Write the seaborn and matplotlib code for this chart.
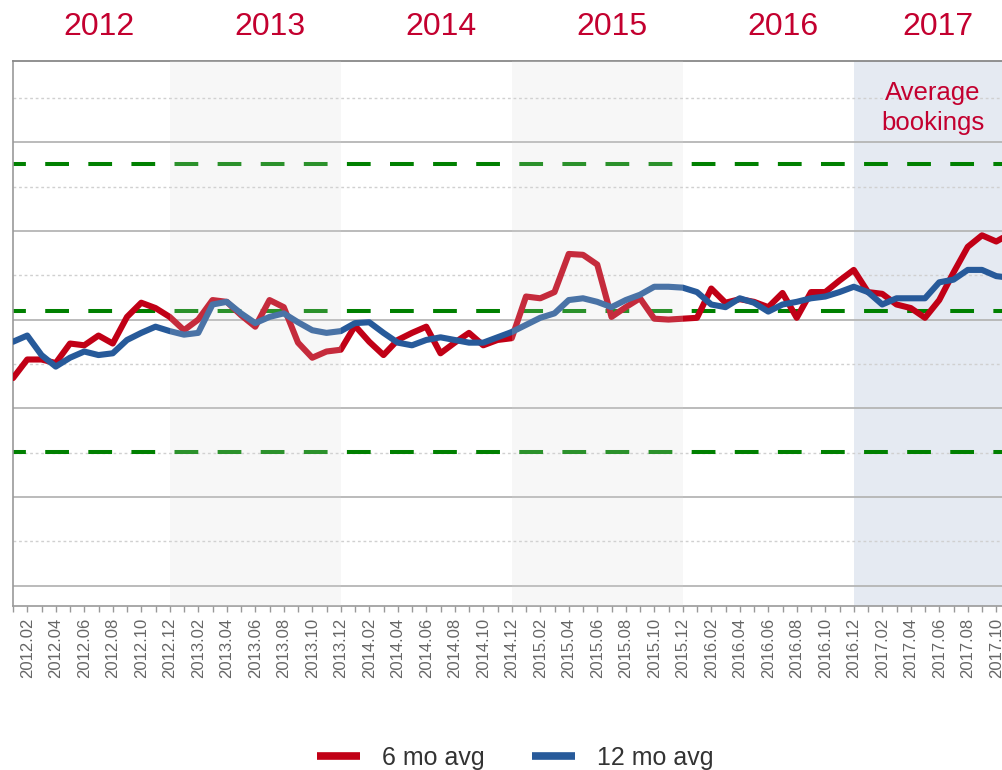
import matplotlib
matplotlib.use("Agg")
import numpy as np
import pandas as pd
import seaborn as sns
import matplotlib.pyplot as plt
from matplotlib.lines import Line2D
from matplotlib.ticker import MultipleLocator
from matplotlib.transforms import blended_transform_factory

# ---------------- data ----------------
years = [2012, 2013, 2014, 2015, 2016, 2017]
months = [f"{2012 + i // 12}.{i % 12 + 1:02d}" for i in range(71)]

avg6 = [2.34, 2.55, 2.55, 2.51, 2.73, 2.71, 2.82, 2.73, 3.03, 3.19,
        3.13, 3.03, 2.88, 3.00, 3.22, 3.20, 3.05, 2.92, 3.22, 3.14,
        2.74, 2.57, 2.64, 2.66, 2.93, 2.75, 2.60, 2.77, 2.85, 2.92,
        2.62, 2.74, 2.85, 2.71, 2.77, 2.79, 3.26, 3.24, 3.31, 3.74,
        3.73, 3.62, 3.03, 3.14, 3.24, 3.01, 3.00, 3.01, 3.02, 3.35,
        3.19, 3.23, 3.20, 3.14, 3.30, 3.02, 3.31, 3.31, 3.44, 3.56,
        3.31, 3.29, 3.17, 3.13, 3.02, 3.22, 3.53, 3.82, 3.95, 3.88, 3.97]

avg12 = [2.75, 2.82, 2.60, 2.47, 2.57, 2.64, 2.60, 2.62, 2.77, 2.85,
         2.92, 2.87, 2.83, 2.85, 3.17, 3.20, 3.07, 2.96, 3.03, 3.07,
         2.97, 2.88, 2.85, 2.87, 2.96, 2.97, 2.85, 2.74, 2.71, 2.77,
         2.80, 2.77, 2.74, 2.74, 2.80, 2.86, 2.94, 3.02, 3.07, 3.22,
         3.24, 3.20, 3.14, 3.22, 3.28, 3.37, 3.37, 3.36, 3.31, 3.17,
         3.14, 3.24, 3.19, 3.09, 3.17, 3.20, 3.24, 3.26, 3.31, 3.37,
         3.31, 3.17, 3.24, 3.24, 3.24, 3.42, 3.45, 3.56, 3.56, 3.49, 3.47]

reference_levels = [4.755, 3.10, 1.505]
series_names = ["6 mo avg", "12 mo avg"]

grey_bands = [(11, 23), (35, 47)]
highlight_band = (59, 71)
year_label_x = [6, 18, 30, 42, 54, 64.9]

# ---------------- style ----------------
sns.set_style("white")
plt.rcParams['font.family'] = ['Liberation Sans', 'DejaVu Sans']

RED = "#c10016"
BLUE = "#275a9a"
GREEN = "#008000"
TITLE_RED = "#c3002f"

fig = plt.figure(figsize=(10.02, 7.70), dpi=100)
ax = fig.add_axes([13 / 1002, (770 - 605.7) / 770, (1002 - 13) / 1002, (605.7 - 61) / 770])

df = pd.DataFrame({
    "idx": list(range(len(avg6))) * 2,
    "value": avg6 + avg12,
    "series": [series_names[0]] * len(avg6) + [series_names[1]] * len(avg12),
})

sns.lineplot(data=df, x="idx", y="value", hue="series",
             palette={series_names[0]: RED, series_names[1]: BLUE},
             linewidth=4.4, legend=False, sort=False, ax=ax)
for ln, z in zip(ax.lines, [3.0, 3.1]):
    ln.set_zorder(z)
    ln.set_solid_joinstyle("round")
    ln.set_solid_capstyle("round")

for lv in reference_levels:
    ax.axhline(lv, color=GREEN, lw=2.9, linestyle=(2.7, (5.9, 4.8)), zorder=2)

for a, b in grey_bands:
    ax.axvspan(a, b, color="#d8d8d8", alpha=0.2, lw=0, zorder=4)
ax.axvspan(highlight_band[0], highlight_band[1], color="#e5eaf2", lw=0, zorder=0.4)

ax.set_xlim(0, (1002 - 13) / 14.25)
ax.set_ylim(-0.2255, 5.915)

ax.set_axisbelow(True)
ax.yaxis.set_major_locator(MultipleLocator(1))
ax.yaxis.set_minor_locator(MultipleLocator(0.5))
ax.grid(which="major", axis="y", color="#b5b5b5", lw=1.3)
ax.grid(which="minor", axis="y", color="#d0d0d0", lw=1.0, linestyle=(0, (2, 2)))
ax.grid(which="major", axis="x", visible=False)
ax.tick_params(axis="y", which="both", left=False, labelleft=False)

ticks = list(range(0, 70))
ax.set_xticks(ticks)
ax.set_xticklabels([months[i] if i % 2 == 1 else "" for i in ticks], rotation=90)
ax.tick_params(axis="x", which="major", direction="out", length=4.5, width=1,
               color="#999999", labelsize=12, labelcolor="#666666", pad=4, bottom=True)
ax.set_xlabel("")
ax.set_ylabel("")

for side in ["left", "bottom"]:
    ax.spines[side].set_color("#9a9a9a")
    ax.spines[side].set_linewidth(1.2)
ax.spines["top"].set_color("#888888")
ax.spines["top"].set_linewidth(1.3)
ax.spines["right"].set_visible(False)

tr = blended_transform_factory(ax.transData, fig.transFigure)
for yr, xp in zip(years, year_label_x):
    ax.text(xp, (770 - 27) / 770, str(yr), transform=tr, ha="center", va="center",
            fontsize=23, color=TITLE_RED, clip_on=False)

ax.text((933 - 13) / 14.25, (770 - 108) / 770, "Average\nbookings", transform=tr,
        ha="center", va="center", fontsize=18.5, color=TITLE_RED, linespacing=1.3, zorder=6)

handles = [Line2D([0], [0], color=RED, lw=5.5, solid_capstyle="butt"),
           Line2D([0], [0], color=BLUE, lw=5.5, solid_capstyle="butt")]
fig.legend(handles, series_names, loc="center", bbox_to_anchor=(515.5 / 1002, 12 / 770),
           ncol=2, frameon=False, fontsize=18, handlelength=1.7, handletextpad=0.9,
           columnspacing=1.9, labelcolor="#333333")

fig.savefig("out.png", dpi=100)
